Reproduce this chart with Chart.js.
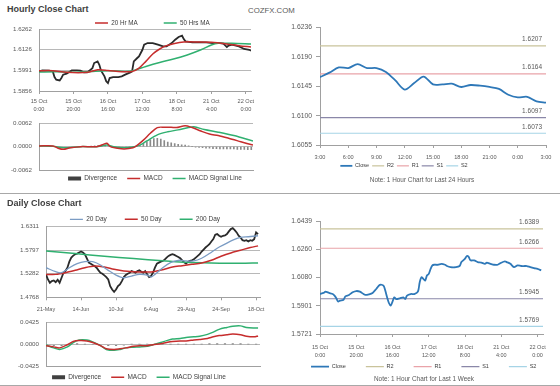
<!DOCTYPE html>
<html>
<head>
<meta charset="utf-8">
<title>Hourly and Daily Close Charts</title>
<script src="https://cdn.jsdelivr.net/npm/chart.js"></script>
<style>
  body { margin: 0; background: #fff; font-family: "Liberation Sans", Arial, sans-serif; }
  #page { position: relative; width: 560px; height: 386px; overflow: hidden; }
  .box { position: absolute; }
  .head { position: absolute; font-weight: bold; font-size: 9px; line-height: 10px; color: #404040; }
  .note { position: absolute; width: 200px; text-align: center; font-size: 6.4px; line-height: 8px; color: #595959; }
  .rule { position: absolute; left: 0; width: 560px; height: 1px; background: #a8a8a8; }
</style>
</head>
<body>
<div id="page">
  <div class="head" style="left:7px;top:4.3px">Hourly Close Chart</div>
  <div style="position:absolute;left:248px;top:5.5px;font-size:7.8px;line-height:9px;color:#595959">COZFX.COM</div>
  <div class="box" style="left:0;top:0;width:270px;height:118px"><canvas id="hPrice"></canvas></div>
  <div class="box" style="left:0;top:112px;width:270px;height:78px"><canvas id="hMacd"></canvas></div>
  <div class="box" style="left:270px;top:0;width:290px;height:190px"><canvas id="hLevels"></canvas></div>
  <div class="note" style="left:322px;top:175.7px">Note: 1 Hour Chart for Last 24 Hours</div>

  <div class="rule" style="top:193px"></div>

  <div class="head" style="left:7px;top:197.7px">Daily Close Chart</div>
  <div class="box" style="left:0;top:194px;width:272px;height:124px"><canvas id="dPrice"></canvas></div>
  <div class="box" style="left:0;top:312px;width:272px;height:74px"><canvas id="dMacd"></canvas></div>
  <div class="box" style="left:270px;top:194px;width:290px;height:192px"><canvas id="wLevels"></canvas></div>
  <div class="note" style="left:324px;top:375.3px">Note: 1 Hour Chart for Last 1 Week</div>

  <div class="rule" style="top:385px"></div>
</div>

<script>
// hourly, one week (x = hour index, 15 Oct 0:00 = 0)
const hourTickIdx = [0, 20, 40, 60, 80, 100, 120];
const hourTickText = [["15 Oct", "0:00"], ["15 Oct", "20:00"], ["16 Oct", "16:00"], ["17 Oct", "12:00"],
  ["18 Oct", "8:00"], ["21 Oct", "4:00"], ["22 Oct", "0:00"]];
const hourPriceTicks = [1.5856, 1.5991, 1.6126, 1.6262];
const hourMacdTicks = [-0.0062, 0, 0.0062];

const hourCloseIdx = [0, 2, 6, 8, 9, 10, 12, 13, 14, 16, 19, 22, 24, 26, 28, 31, 32, 34, 35, 36,
  38, 39, 40, 41, 43, 46, 48, 50, 53, 54, 55, 57, 58, 60, 61, 63, 66, 69, 72, 74,
  77, 79, 81, 83, 84, 85, 89, 93, 97, 101, 105, 107, 109, 110, 112, 116, 119, 122, 123];
const hourClose = [1.5984, 1.5991, 1.5989, 1.5984, 1.5947, 1.5930, 1.5925, 1.5941, 1.5963, 1.5969,
  1.5991, 1.5991, 1.5989, 1.5978, 1.5978, 1.6006, 1.6039, 1.6050, 1.6028, 1.5989,
  1.5952, 1.5919, 1.5908, 1.5941, 1.5947, 1.5947, 1.5952, 1.5963, 1.5978, 1.5984,
  1.6050, 1.6072, 1.6083, 1.6126, 1.6159, 1.6170, 1.6170, 1.6159, 1.6148, 1.6148,
  1.6170, 1.6192, 1.6210, 1.6218, 1.6196, 1.6181, 1.6175, 1.6175, 1.6175, 1.6170,
  1.6170, 1.6166, 1.6144, 1.6153, 1.6159, 1.6148, 1.6131, 1.6126, 1.6120];

const ma20Idx = [0, 8, 16, 28, 34, 40, 48, 54, 58, 62, 66, 70, 74, 78, 84, 92, 100, 108, 116, 123];
const ma20 = [1.5989, 1.5989, 1.5978, 1.5978, 1.5995, 1.5991, 1.5982, 1.5984, 1.6006, 1.6050,
  1.6098, 1.6131, 1.6153, 1.6166, 1.6177, 1.6177, 1.6175, 1.6166, 1.6153, 1.6144];
const ma50Idx = [0, 10, 20, 30, 40, 50, 55, 62, 70, 78, 86, 94, 100, 104, 112, 123];
const ma50 = [1.5980, 1.5982, 1.5978, 1.5984, 1.5989, 1.5984, 1.5991, 1.6017, 1.6043, 1.6065,
  1.6092, 1.6126, 1.6157, 1.6168, 1.6168, 1.6164];

const hourMacdIdx = [0, 8, 11, 14, 18, 24, 33, 37, 39, 41, 45, 49, 54, 56, 60, 64, 68, 72, 76, 79,
  84, 88, 93, 98, 103, 109, 116, 123];
const hourMacd = [0.0002, 0.0002, -0.0004, -0.0007, -0.0003, 0.0000, 0.0000, 0.0006, 0.0009, 0.0000,
  -0.0004, -0.0006, -0.0003, 0.0002, 0.0017, 0.0035, 0.0050, 0.0051, 0.0051, 0.0050,
  0.0055, 0.0050, 0.0041, 0.0033, 0.0029, 0.0022, 0.0013, 0.0004];
const hourSignalIdx = [0, 8, 14, 24, 33, 39, 43, 49, 54, 58, 62, 68, 74, 80, 86, 89, 95, 103, 112, 123];
const hourSignal = [0.0002, 0.0001, -0.0003, 0.0000, 0.0000, 0.0004, 0.0000, -0.0003, -0.0001, 0.0004,
  0.0015, 0.0031, 0.0039, 0.0044, 0.0050, 0.0052, 0.0045, 0.0038, 0.0029, 0.0015];
const hourDivIdx = [30, 32, 34, 36, 38, 40, 42, 44, 46, 48, 50, 52, 54, 56, 58, 60, 62, 64, 66, 68,
  70, 72, 74, 76, 78, 80, 82, 84, 86, 88, 90, 92, 94, 96, 98, 100, 102, 104, 106, 108,
  110, 112, 114, 116, 118, 120, 122];
const hourDiv = [0.0001, 0.0002, 0.0003, 0.0004, 0.0004, 0.0001, -0.0001, -0.0002, -0.0002, -0.0002,
  -0.0002, -0.0001, 0.0000, 0.0000, 0.0003, 0.0008, 0.0013, 0.0018, 0.0021, 0.0022,
  0.0020, 0.0016, 0.0012, 0.0010, 0.0008, 0.0006, 0.0005, 0.0004, 0.0002, 0.0000,
  -0.0001, -0.0002, -0.0003, -0.0004, -0.0004, -0.0005, -0.0005, -0.0006, -0.0006, -0.0006,
  -0.0006, -0.0006, -0.0007, -0.0007, -0.0007, -0.0008, -0.0008];

// hourly, last 24 hours (x = 0..24)
const last24TickIdx = [0, 3, 6, 9, 12, 15, 18, 21, 24];
const last24TickText = ["3:00", "6:00", "9:00", "12:00", "15:00", "18:00", "21:00", "0:00", "3:00"];
const last24Ticks = [1.6055, 1.6100, 1.6145, 1.6190, 1.6236];
const last24Close = [1.6159, 1.6166, 1.6174, 1.6173, 1.6179, 1.6173, 1.6173, 1.6167, 1.6154, 1.6140,
  1.6150, 1.6160, 1.6148, 1.6148, 1.6149, 1.6144, 1.6147, 1.6146, 1.6144, 1.6141,
  1.6132, 1.6128, 1.6129, 1.6122, 1.6120];
const last24Levels = [1.6207, 1.6164, 1.6097, 1.6073];

// daily (x = trading day from 21-May)
const dayTickIdx = [0, 18, 36, 54, 72, 90, 108];
const dayTickText = ["21-May", "14-Jun", "10-Jul", "6-Aug", "29-Aug", "24-Sep", "18-Oct"];
const dayPriceTicks = [1.4768, 1.5282, 1.5797, 1.6311];
const dayMacdTicks = [-0.0425, 0, 0.0425];
const dayClose = [1.5269, 1.5158, 1.5085, 1.5122, 1.5136, 1.5100, 1.5151, 1.5085, 1.5195, 1.5305,
  1.5342, 1.5415, 1.5547, 1.5636, 1.5680, 1.5709, 1.5724, 1.5746, 1.5768, 1.5746,
  1.5709, 1.5621, 1.5525, 1.5503, 1.5474, 1.5452, 1.5415, 1.5357, 1.5305, 1.5283,
  1.5246, 1.5210, 1.5158, 1.5012, 1.4938, 1.4887, 1.4938, 1.5012, 1.5048, 1.5122,
  1.5210, 1.5254, 1.5283, 1.5305, 1.5342, 1.5327, 1.5305, 1.5342, 1.5357, 1.5327,
  1.5305, 1.5342, 1.5269, 1.5210, 1.5232, 1.5305, 1.5415, 1.5503, 1.5525, 1.5547,
  1.5562, 1.5591, 1.5636, 1.5672, 1.5694, 1.5709, 1.5694, 1.5672, 1.5650, 1.5621,
  1.5577, 1.5533, 1.5503, 1.5547, 1.5562, 1.5577, 1.5599, 1.5636, 1.5672, 1.5709,
  1.5768, 1.5812, 1.5856, 1.5892, 1.5929, 1.5988, 1.6039, 1.6135, 1.6149, 1.6113,
  1.6091, 1.6113, 1.6120, 1.6149, 1.6208, 1.6259, 1.6281, 1.6237, 1.6186, 1.6113,
  1.6076, 1.6017, 1.6003, 1.6017, 1.5988, 1.6017, 1.6003, 1.6039, 1.6186, 1.6149];
const day20Idx = [0, 5, 8, 12, 16, 20, 24, 28, 32, 36, 40, 44, 48, 52, 54, 56, 60, 64, 68, 72,
  76, 80, 84, 88, 92, 96, 100, 104, 109];
const day20 = [1.5415, 1.5327, 1.5305, 1.5415, 1.5503, 1.5547, 1.5547, 1.5474, 1.5357, 1.5254,
  1.5195, 1.5232, 1.5269, 1.5254, 1.5210, 1.5269, 1.5415, 1.5525, 1.5577, 1.5562,
  1.5562, 1.5621, 1.5724, 1.5841, 1.5929, 1.6017, 1.6076, 1.6091, 1.6113];
const day50Idx = [0, 5, 10, 15, 20, 25, 30, 35, 40, 45, 50, 55, 60, 65, 70, 75, 80, 85, 90, 95,
  100, 105, 109];
const day50 = [1.5269, 1.5269, 1.5305, 1.5357, 1.5415, 1.5452, 1.5430, 1.5379, 1.5342, 1.5327,
  1.5320, 1.5327, 1.5371, 1.5430, 1.5459, 1.5489, 1.5518, 1.5577, 1.5665, 1.5738,
  1.5797, 1.5856, 1.5892];
const day200Idx = [0, 15, 30, 45, 60, 72, 85, 100, 109];
const day200 = [1.5782, 1.5724, 1.5665, 1.5614, 1.5569, 1.5533, 1.5518, 1.5511, 1.5518];
const dayMacdIdx = [0, 4, 7, 11, 14, 17, 21, 24, 28, 31, 35, 38, 41, 45, 48, 52, 55, 59, 62, 65,
  69, 72, 76, 79, 83, 86, 89, 93, 96, 100, 103, 107, 109];
const dayMacd = [-0.0018, -0.0042, -0.0061, 0.0000, 0.0061, 0.0079, 0.0073, 0.0042, -0.0018, -0.0079,
  -0.0091, -0.0079, -0.0061, -0.0030, -0.0018, -0.0018, 0.0000, 0.0018, 0.0042, 0.0061,
  0.0073, 0.0073, 0.0091, 0.0103, 0.0121, 0.0152, 0.0176, 0.0194, 0.0206, 0.0194,
  0.0164, 0.0152, 0.0170];
const daySignal = [-0.0006, -0.0061, -0.0091, -0.0042, 0.0042, 0.0091, 0.0091, 0.0055, -0.0018, -0.0091,
  -0.0109, -0.0091, -0.0061, -0.0049, -0.0042, -0.0030, 0.0000, 0.0042, 0.0079, 0.0109,
  0.0121, 0.0140, 0.0152, 0.0164, 0.0200, 0.0243, 0.0297, 0.0334, 0.0358, 0.0364,
  0.0334, 0.0322, 0.0322];
const dayDivIdx = [0, 4, 8, 12, 16, 20, 24, 28, 32, 36, 40, 44, 48, 52, 56, 60, 64, 68, 72, 76,
  80, 84, 88, 92, 96, 100, 104, 108];
const dayDiv = [-0.001, -0.002, -0.002, 0.001, 0.002, 0.001, 0.000, -0.001, -0.002, -0.002,
  -0.001, 0.001, 0.001, 0.001, 0.001, 0.001, 0.001, 0.001, 0.001, 0.001,
  0.001, 0.002, 0.002, 0.002, 0.002, 0.002, 0.001, 0.001];

// hourly, last week (same hour index as the first chart)
const weekTicks = [1.5721, 1.5901, 1.6080, 1.6260, 1.6439];
const weekIdx = [0, 2, 3, 5, 7, 8, 9, 10, 11, 13, 14, 16, 18, 20, 22, 24, 25, 27, 29, 31,
  33, 35, 36, 37, 38, 39, 40, 41, 42, 44, 46, 47, 48, 50, 52, 54, 55, 56, 57, 58,
  59, 60, 61, 62, 63, 65, 67, 69, 70, 72, 75, 77, 78, 79, 80, 81, 82, 83, 85, 87,
  89, 91, 92, 94, 96, 98, 100, 102, 103, 105, 107, 109, 111, 113, 114, 116, 118, 120, 122];
const weekClose = [1.5975, 1.5982, 1.5990, 1.5982, 1.5975, 1.5965, 1.5948, 1.5927, 1.5933, 1.5939,
  1.5960, 1.5969, 1.5986, 1.5994, 1.5990, 1.5975, 1.5969, 1.5973, 1.5982, 1.6007,
  1.6033, 1.6029, 1.5997, 1.5954, 1.5918, 1.5901, 1.5927, 1.5954, 1.5943, 1.5948,
  1.5954, 1.5943, 1.5965, 1.5975, 1.5975, 1.5990, 1.6050, 1.6082, 1.6071, 1.6061,
  1.6093, 1.6103, 1.6135, 1.6157, 1.6161, 1.6161, 1.6167, 1.6161, 1.6153, 1.6146,
  1.6146, 1.6153, 1.6178, 1.6189, 1.6200, 1.6217, 1.6211, 1.6189, 1.6189, 1.6178,
  1.6174, 1.6167, 1.6174, 1.6167, 1.6161, 1.6161, 1.6174, 1.6182, 1.6178, 1.6167,
  1.6146, 1.6157, 1.6153, 1.6153, 1.6153, 1.6146, 1.6140, 1.6135, 1.6125];
const weekLevels = [1.6389, 1.6266, 1.5945, 1.5769];

const levelNames = ["R2", "R1", "S1", "S2"];
const levelColors = ["#c9c39b", "#e9a3a9", "#8a87a8", "#a6d4e6"];

const RED = "#c62d2d";
const GREEN = "#30b070";
const BLACK = "#2a2a2a";
const STEEL = "#7b9cc4";
const BLUE = "#2e78b8";
const GRID = "#b8b8b8";
const AXIS = "#a0a0a0";

Chart.defaults.font.family = '"Liberation Sans", Arial, sans-serif';
Chart.defaults.color = "#595959";
Chart.defaults.animation = false;
Chart.defaults.maintainAspectRatio = false;
Chart.defaults.events = [];
Chart.defaults.plugins.tooltip.enabled = false;

function pts(xs, ys) { return xs.map((x, i) => ({ x: x, y: ys[i] })); }
function seq(ys) { return ys.map((y, i) => ({ x: i, y: y })); }
function flat(v, x0, x1) { return [{ x: x0, y: v }, { x: x1, y: v }]; }

function line(label, data, color, width, tension, extra) {
  return Object.assign({
    type: "line", label: label, data: data, borderColor: color, backgroundColor: color,
    borderWidth: width, pointRadius: 0, pointStyle: "line", tension: tension || 0, fill: false
  }, extra || {});
}

function xAxis(min, max, tickIdx, tickText, o) {
  return {
    type: "linear", min: min, max: max, offset: false,
    afterBuildTicks: s => { s.ticks = tickIdx.map(v => ({ value: v })); },
    afterFit: s => { s.height = o.h; },
    border: { display: true, color: AXIS },
    grid: { display: true, drawOnChartArea: false, drawTicks: !!tickText, tickLength: 3, color: AXIS },
    ticks: {
      display: !!tickText, autoSkip: false, maxRotation: 0, minRotation: 0,
      padding: o.pad || 0, font: { size: o.fs || 6, lineHeight: o.lh || 1.2 },
      callback: v => { const k = tickIdx.indexOf(v); return tickText && k >= 0 ? tickText[k] : ""; }
    }
  };
}

function yAxis(min, max, tickVals, o) {
  return {
    type: "linear", min: min, max: max,
    afterBuildTicks: s => { s.ticks = tickVals.map(v => ({ value: v })); },
    afterFit: s => { s.width = o.w; },
    border: { display: true, color: AXIS },
    grid: { display: true, drawOnChartArea: o.grid, drawTicks: o.tick > 0, tickLength: o.tick || 0,
      color: o.grid ? GRID : AXIS },
    ticks: { padding: o.pad, font: { size: o.fs }, callback: v => v.toFixed(4) }
  };
}

function legend(pos, o) {
  return {
    display: true, position: pos,
    labels: {
      usePointStyle: true, pointStyleWidth: o.box, boxWidth: o.box, boxHeight: 4,
      padding: o.pad, font: { size: o.fs }, color: "#404040",
      filter: (item, data) => !data.datasets[item.datasetIndex].hideKey,
      sort: (a, b) => a.datasetIndex - b.datasetIndex,
      generateLabels: chart => Chart.defaults.plugins.legend.labels.generateLabels(chart).map(it => {
        const ds = chart.data.datasets[it.datasetIndex];
        if (ds.keyColor) { it.fillStyle = ds.keyColor; it.strokeStyle = ds.keyColor; }
        return it;
      })
    }
  };
}

// legend height and position are tuned per chart
const legendBox = {
  id: "legendBox",
  afterInit(chart) {
    const lg = chart.legend;
    if (!lg) return;
    const fit = lg.fit;
    lg.fit = function () {
      fit.call(this);
      const h = chart.options.plugins.legendBox.height;
      if (h != null) this.height = h;
    };
  },
  afterLayout(chart, args, opts) {
    const lg = chart.legend;
    if (!lg) return;
    lg.left += opts.dx || 0; lg.right += opts.dx || 0;
    lg.top += opts.dy || 0;
    lg.bottom += (opts.dy || 0) + 30; // keep the shifted items inside the legend clip
  }
};

// value written above each support / resistance line
const levelLabels = {
  id: "levelLabels",
  afterDatasetsDraw(chart) {
    const { ctx, chartArea, scales } = chart;
    ctx.save();
    ctx.font = '6.5px "Liberation Sans", Arial, sans-serif';
    ctx.fillStyle = "#595959";
    ctx.textAlign = "right";
    ctx.textBaseline = "middle";
    chart.data.datasets.forEach(ds => {
      if (!ds.level) return;
      const v = ds.data[0].y;
      ctx.fillText(v.toFixed(4), chartArea.right - 4, scales.y.getPixelForValue(v) - 6.5);
    });
    ctx.restore();
  }
};

function divBars(xs, ys, thick) {
  return {
    type: "bar", label: "Divergence", data: pts(xs, ys), backgroundColor: "#8a8a8a",
    borderWidth: 0, barThickness: thick, pointStyle: "rect", keyColor: "#404040", order: 2
  };
}

/* hourly close, one week */
new Chart(document.getElementById("hPrice"), {
  type: "line",
  data: {
    datasets: [
      line("20 Hr MA", pts(ma20Idx, ma20), RED, 1.5, 0.3),
      line("50 Hrs MA", pts(ma50Idx, ma50), GREEN, 1.5, 0.3),
      line("Close", pts(hourCloseIdx, hourClose), BLACK, 1.8, 0, { hideKey: true })
    ]
  },
  options: {
    layout: { padding: { left: 0, right: 19, top: 0, bottom: 0 } },
    scales: {
      x: xAxis(0, 123, hourTickIdx, hourTickText, { h: 27, pad: 3.9, fs: 5.6, lh: 1.35 }),
      y: yAxis(1.5856, 1.6262, hourPriceTicks, { w: 39, pad: 7, fs: 6.2, grid: true, tick: 0 })
    },
    plugins: {
      legend: legend("top", { box: 13, pad: 26, fs: 6.3 }),
      legendBox: { height: 29, dx: 26.8, dy: -6.15 }
    }
  },
  plugins: [legendBox]
});

/* hourly MACD */
new Chart(document.getElementById("hMacd"), {
  type: "line",
  data: {
    datasets: [
      divBars(hourDivIdx, hourDiv, 1),
      line("MACD", pts(hourMacdIdx, hourMacd), RED, 1.5, 0.3),
      line("MACD Signal Line", pts(hourSignalIdx, hourSignal), GREEN, 1.5, 0.3)
    ]
  },
  options: {
    layout: { padding: { left: 0, right: 17, top: 11, bottom: 0 } },
    scales: {
      x: xAxis(0, 123, hourTickIdx, null, { h: 2 }),
      y: yAxis(-0.0062, 0.0062, hourMacdTicks, { w: 39, pad: 7, fs: 6.2, grid: true, tick: 0 })
    },
    plugins: {
      legend: legend("bottom", { box: 13, pad: 10, fs: 6.5 }),
      legendBox: { height: 17.7, dx: 28.5, dy: -7.15 }
    }
  },
  plugins: [legendBox]
});

/* last 24 hours with pivot levels */
new Chart(document.getElementById("hLevels"), {
  type: "line",
  data: {
    datasets: [line("Close", seq(last24Close), BLUE, 1.8, 0.3)].concat(
      levelNames.map((n, i) => line(n, flat(last24Levels[i], 0, 24), levelColors[i], 1.2, 0, { level: true })))
  },
  options: {
    layout: { padding: { left: 0, right: 14, top: 27, bottom: 17 } },
    scales: {
      x: xAxis(0, 24, last24TickIdx, last24TickText, { h: 16, pad: 5.9, fs: 5.6, lh: 1.2 }),
      y: yAxis(1.6055, 1.6236, last24Ticks, { w: 50, pad: 4, fs: 6.8, grid: false, tick: 4 })
    },
    plugins: {
      legend: legend("bottom", { box: 12, pad: 3, fs: 5.5 }),
      legendBox: { height: 12, dx: -4, dy: -0.9 }
    }
  },
  plugins: [legendBox, levelLabels]
});

/* daily close */
new Chart(document.getElementById("dPrice"), {
  type: "line",
  data: {
    datasets: [
      line("20 Day", pts(day20Idx, day20), STEEL, 1.3, 0.3),
      line("50 Day", pts(day50Idx, day50), RED, 1.5, 0.3),
      line("200 Day", pts(day200Idx, day200), GREEN, 1.5, 0.3),
      line("Close", seq(dayClose), BLACK, 1.8, 0, { hideKey: true })
    ]
  },
  options: {
    layout: { padding: { left: 0, right: 12, top: 0, bottom: 0 } },
    scales: {
      x: xAxis(0, 110, dayTickIdx, dayTickText, { h: 20.7, pad: 5.4, fs: 5.5, lh: 1.2 }),
      y: yAxis(1.4768, 1.6311, dayPriceTicks, { w: 46, pad: 7, fs: 6.2, grid: true, tick: 0 })
    },
    plugins: {
      legend: legend("top", { box: 13, pad: 18, fs: 6.5 }),
      legendBox: { height: 32.7, dx: 15, dy: 4.05 }
    }
  },
  plugins: [legendBox]
});

/* daily MACD */
new Chart(document.getElementById("dMacd"), {
  type: "line",
  data: {
    datasets: [
      divBars(dayDivIdx, dayDiv, 1.5),
      line("MACD", pts(dayMacdIdx, dayMacd), RED, 1.5, 0.3),
      line("MACD Signal Line", pts(dayMacdIdx, daySignal), GREEN, 1.5, 0.3)
    ]
  },
  options: {
    layout: { padding: { left: 0, right: 12, top: 8, bottom: 0 } },
    scales: {
      x: xAxis(0, 110, dayTickIdx, null, { h: 2 }),
      y: yAxis(-0.0425, 0.0425, dayMacdTicks, { w: 46, pad: 7, fs: 6.2, grid: true, tick: 0 })
    },
    plugins: {
      legend: legend("bottom", { box: 13, pad: 10, fs: 6.5 }),
      legendBox: { height: 17.3, dx: 9, dy: -4.65 }
    }
  },
  plugins: [legendBox]
});

/* last week with pivot levels */
new Chart(document.getElementById("wLevels"), {
  type: "line",
  data: {
    datasets: [line("Close", pts(weekIdx, weekClose), BLUE, 1.8, 0.3)].concat(
      levelNames.map((n, i) => line(n, flat(weekLevels[i], 0, 123), levelColors[i], 1.2, 0, { level: true })))
  },
  options: {
    layout: { padding: { left: 0, right: 17, top: 27, bottom: 14 } },
    scales: {
      x: xAxis(0, 123, hourTickIdx, hourTickText, { h: 26, pad: 6.7, fs: 5.5, lh: 1.45 }),
      y: yAxis(1.5721, 1.6439, weekTicks, { w: 50, pad: 4, fs: 6.8, grid: false, tick: 4 })
    },
    plugins: {
      legend: legend("bottom", { box: 18, pad: 20, fs: 5.5 }),
      legendBox: { height: 12, dx: 17.2, dy: -16.05 }
    }
  },
  plugins: [legendBox, levelLabels]
});
</script>
</body>
</html>
